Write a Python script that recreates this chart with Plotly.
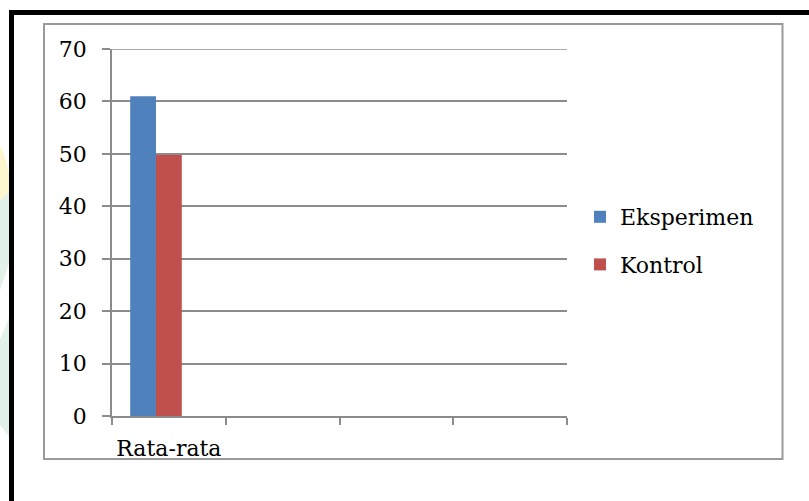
import plotly.graph_objects as go

# Data
categories = ["Rata-rata", " ", "  ", "   "]
series_names = ["Eksperimen", "Kontrol"]
series_values = [[61.0], [49.8]]
series_colors = ["#4f81bd", "#c0504d"]
y_ticks = [0, 10, 20, 30, 40, 50, 60, 70]

W, H = 809, 501
L, R, T, B = 112, 242, 49, 85
pw, ph = W - L - R, H - T - B

def px(x):
    return (x - L) / pw

def py(y):
    return 1 - (y - T) / ph

FONT = "DejaVu Serif"
GRID = "#8c8c8c"

fig = go.Figure()

# three slots per category (Excel-style cluster), two used
slot = 0.68 / 3
for i, (name, vals, col) in enumerate(zip(series_names, series_values, series_colors)):
    fig.add_trace(go.Bar(
        x=categories[:len(vals)], y=vals, name=name,
        marker=dict(color=col, line=dict(width=0)),
        width=slot, offset=-0.34 + i * slot,
        legendgroup=name,
    ))

shapes = [
    # faint background watermark at left edge
    dict(type="circle", xref="paper", yref="paper", layer="below",
         x0=px(-70), x1=px(12), y0=py(290), y1=py(120),
         fillcolor="#fdf7cf", line=dict(width=0)),
    dict(type="path", xref="paper", yref="paper", layer="below",
         path=f"M {px(0)} {py(200)} L {px(12)} {py(190)} L {px(12)} {py(255)} L {px(0)} {py(290)} Z",
         fillcolor="#e2f2e8", line=dict(width=0)),
    dict(type="path", xref="paper", yref="paper", layer="below",
         path=f"M {px(0)} {py(340)} L {px(12)} {py(310)} L {px(12)} {py(440)} L {px(0)} {py(425)} Z",
         fillcolor="#e2f2e8", line=dict(width=0)),
    # inner chart frame
    dict(type="rect", xref="paper", yref="paper", layer="below",
         x0=px(44), x1=px(782.5), y0=py(459), y1=py(24),
         line=dict(color="#9a9a9a", width=2), fillcolor="white"),
    # top gridline (at the edge of the value range)
    dict(type="line", xref="paper", yref="y", layer="below",
         x0=0, x1=1, y0=y_ticks[-1], y1=y_ticks[-1],
         line=dict(color=GRID, width=1.6)),
    # outer black frame
    dict(type="rect", xref="paper", yref="paper",
         x0=px(11.5), x1=px(830), y0=py(530), y1=py(12.5),
         line=dict(color="black", width=5)),
]

fig.update_layout(
    width=W, height=H,
    margin=dict(l=L, r=R, t=T, b=B, autoexpand=False),
    paper_bgcolor="white", plot_bgcolor="rgba(0,0,0,0)",
    font=dict(family=FONT, size=22, color="black"),
    shapes=shapes,
    showlegend=True,
    legend=dict(
        x=px(580), y=py(196), xanchor="left", yanchor="top",
        font=dict(family=FONT, size=22, color="black"),
        bgcolor="rgba(0,0,0,0)", tracegroupgap=16, traceorder="grouped",
    ),
    xaxis=dict(
        type="category", categoryorder="array", categoryarray=categories,
        range=[-0.5, 3.5], tickson="boundaries", tickangle=0, automargin=False,
        ticks="outside", ticklen=7, tickwidth=1.6, tickcolor=GRID,
        showline=True, linecolor=GRID, linewidth=1.6,
        showgrid=False, ticklabelstandoff=12,
        tickfont=dict(family=FONT, size=22, color="black"),
    ),
    yaxis=dict(
        range=[0, 70], tickvals=y_ticks, automargin=False,
        ticks="outside", ticklen=8, tickwidth=1.6, tickcolor=GRID,
        showline=True, linecolor=GRID, linewidth=1.6,
        showgrid=True, gridcolor=GRID, gridwidth=1.6,
        zeroline=False, ticklabelstandoff=11,
        tickfont=dict(family=FONT, size=22, color="black"),
    ),
)

fig.write_html("out.html")
